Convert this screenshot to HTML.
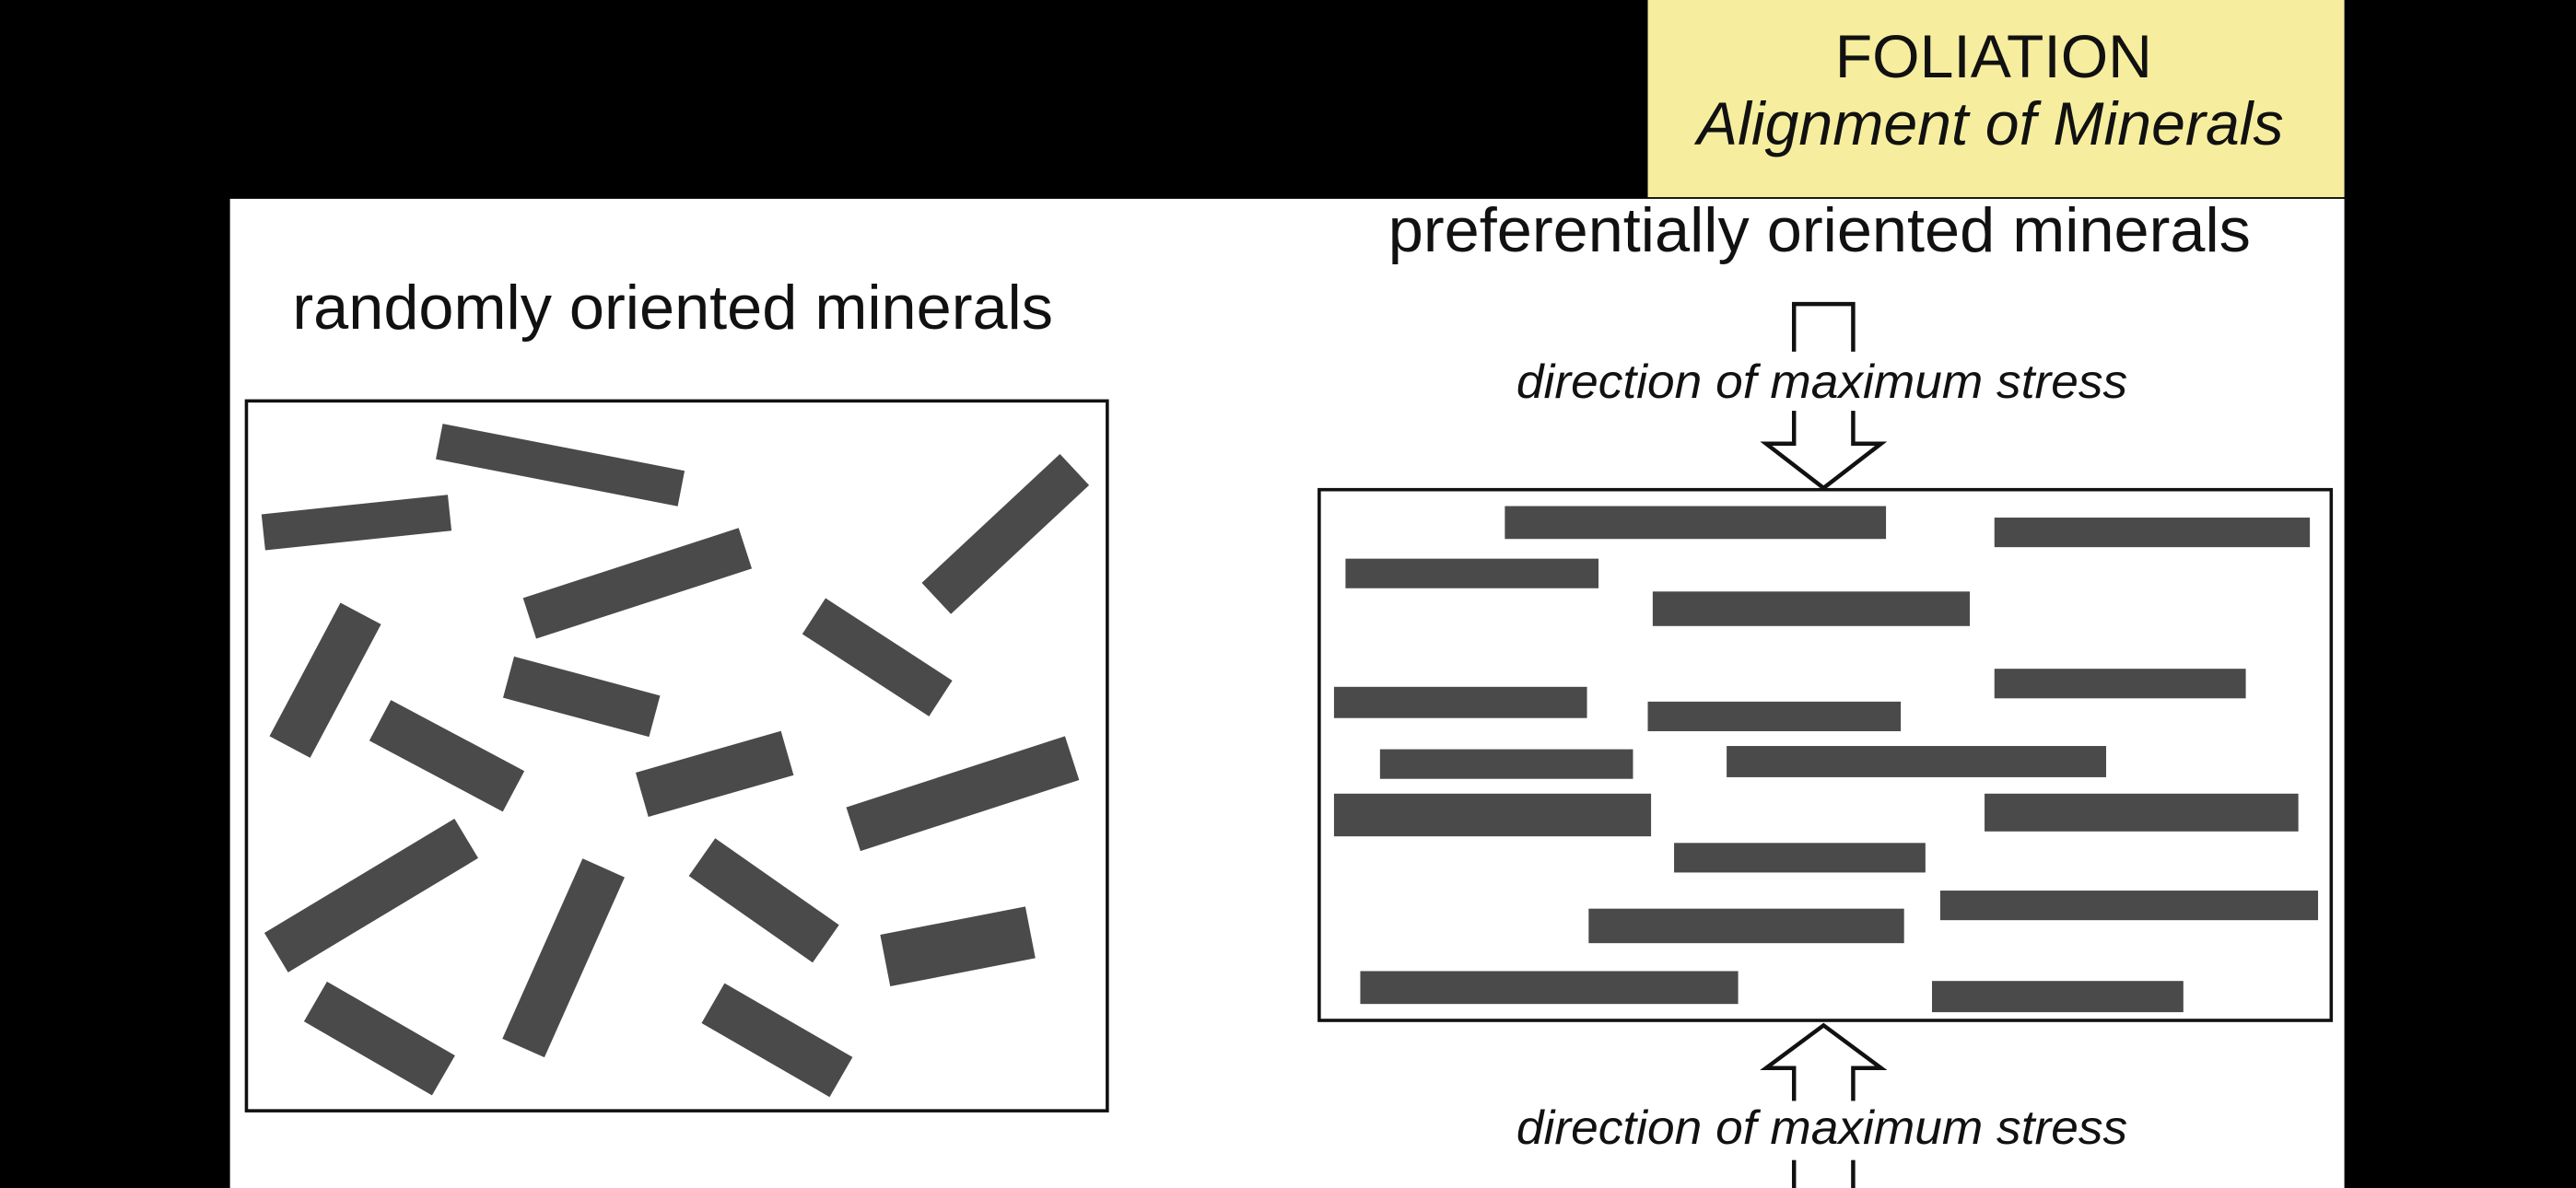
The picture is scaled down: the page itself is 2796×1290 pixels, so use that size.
<!DOCTYPE html>
<html><head><meta charset="utf-8"><style>
html,body{margin:0;padding:0;background:#000;width:2796px;height:1290px;overflow:hidden}
svg{display:block}
text{font-family:"Liberation Sans",sans-serif;fill:#111}
</style></head><body>
<svg id="fig" width="2796" height="1290" viewBox="0 0 1568 723" preserveAspectRatio="none" xmlns="http://www.w3.org/2000/svg">
<rect x="0" y="0" width="1568" height="723" fill="#000"/>
<rect x="1003" y="0" width="424" height="120" fill="#f6ee9e"/>
<text x="1117" y="47" font-size="37" textLength="193" lengthAdjust="spacingAndGlyphs">FOLIATION</text>
<text x="1033" y="88" font-size="37" font-style="italic" textLength="357" lengthAdjust="spacingAndGlyphs">Alignment of Minerals</text>
<rect x="140" y="121" width="1287" height="602" fill="#fff"/>
<text x="845" y="153" font-size="38" textLength="525" lengthAdjust="spacingAndGlyphs">preferentially oriented minerals</text>
<text x="178" y="200" font-size="38" textLength="463" lengthAdjust="spacingAndGlyphs">randomly oriented minerals</text>
<rect x="150" y="244" width="524" height="432" fill="#fff" stroke="#111" stroke-width="2"/>
<rect x="803" y="298" width="616" height="323" fill="#fff" stroke="#111" stroke-width="2"/>
<polygon points="1092,185 1128,185 1128,270 1145,270 1110,297 1075,270 1092,270" fill="#fff" stroke="#111" stroke-width="2.5"/>
<rect x="918" y="214" width="380" height="36" fill="#fff"/>
<text x="923" y="242" font-size="29" font-style="italic" textLength="372" lengthAdjust="spacingAndGlyphs">direction of maximum stress</text>
<polygon points="1110,624 1145,650 1128,650 1128,730 1092,730 1092,650 1075,650" fill="#fff" stroke="#111" stroke-width="2.5"/>
<rect x="918" y="670" width="380" height="36" fill="#fff"/>
<text x="923" y="696" font-size="29" font-style="italic" textLength="372" lengthAdjust="spacingAndGlyphs">direction of maximum stress</text>
<g id="randomBars"></g>
<g id="alignedBars"></g>
</svg>
<script>
// random minerals: center x, center y, length, thickness, angle(deg)
const randCx = [217,341,388,612,198,354,534,272,435,586,226,343,465,583,231,473];
const randCy = [318,283,355,325,414,424,400,460,471,483,545,583,548,576,632,633];
const randLen = [114,150,138,115,92,92,92,92,92,140,135,120,92,90,90,90];
const randThick = [22,22,26,26,28,26,26,28,28,28,28,28,28,32,28,28];
const randAngle = [-6,11,-18,-43,-62,15,33,28,-16,-18,-31,-66,35,-11,30,30];
// aligned minerals: x1,y1,x2,y2
const alX1 = [916,1214,819,1006,812,1214,1003,840,1051,812,1208,1019,967,1181,828,1176];
const alY1 = [308,315,340,360,418,407,427,456,454,483,483,513,553,542,591,597];
const alX2 = [1148,1406,973,1199,966,1367,1157,994,1282,1005,1399,1172,1159,1411,1058,1329];
const alY2 = [328,333,358,381,437,425,445,474,473,509,506,531,574,560,611,616];
const NS = "http://www.w3.org/2000/svg";
const rg = document.getElementById('randomBars');
for (let i = 0; i < randCx.length; i++) {
  const r = document.createElementNS(NS, 'rect');
  r.setAttribute('x', randCx[i] - randLen[i] / 2);
  r.setAttribute('y', randCy[i] - randThick[i] / 2);
  r.setAttribute('width', randLen[i]);
  r.setAttribute('height', randThick[i]);
  r.setAttribute('fill', '#4a4a4a');
  r.setAttribute('transform', 'rotate(' + randAngle[i] + ' ' + randCx[i] + ' ' + randCy[i] + ')');
  
  
  rg.appendChild(r);
}
const ag = document.getElementById('alignedBars');
for (let i = 0; i < alX1.length; i++) {
  const r = document.createElementNS(NS, 'rect');
  r.setAttribute('x', alX1[i]);
  r.setAttribute('y', alY1[i]);
  r.setAttribute('width', alX2[i] - alX1[i]);
  r.setAttribute('height', alY2[i] - alY1[i]);
  r.setAttribute('fill', '#4a4a4a');
  
  
  ag.appendChild(r);
}
</script>
</body></html>
